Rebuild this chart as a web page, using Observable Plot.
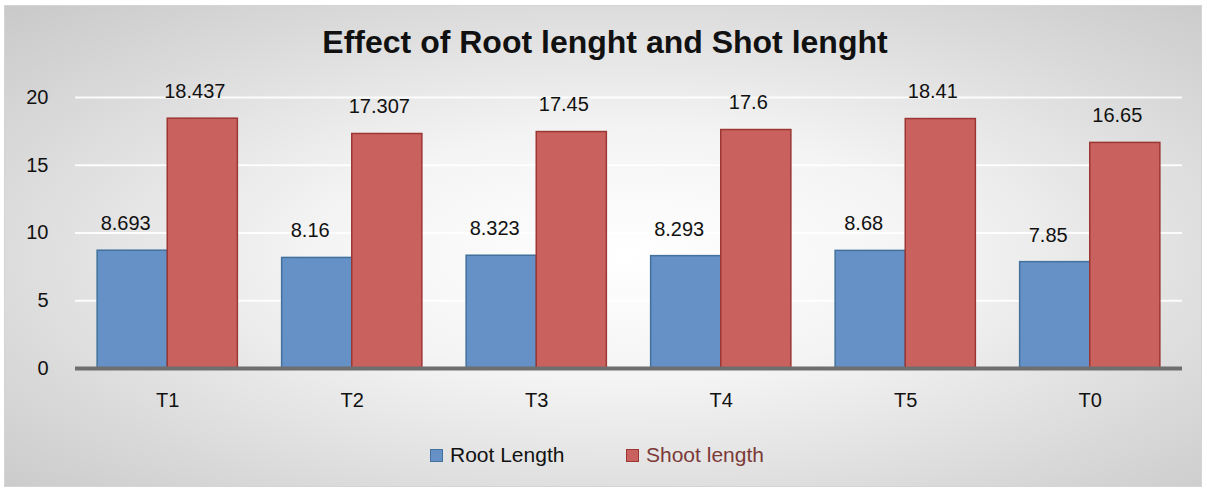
<!DOCTYPE html>
<html>
<head>
<meta charset="utf-8">
<script src="https://cdn.jsdelivr.net/npm/d3@7"></script>
<script src="https://cdn.jsdelivr.net/npm/@observablehq/plot@0.6"></script>
<style>
  html, body { margin: 0; padding: 0; background: #fff; }
  #wrap { position: relative; width: 1207px; height: 492px; overflow: hidden; font-family: "Liberation Sans", Arial, sans-serif; }
  #box { position: absolute; left: 4px; top: 5px; width: 1198px; height: 482px; box-sizing: border-box;
         border: 1px solid #d4d4d4;
         background: radial-gradient(ellipse farthest-corner at 52% 52%, #ffffff 0%, #f4f4f4 35%, #d9d9d9 75%, #c9c9c9 100%); }
  #title { position: absolute; left: 0; width: 1210px; top: 24px; text-align: center; font-weight: bold; font-size: 32px; color: #111; }
  #chart { position: absolute; left: 0; top: 70px; }
  .leg { position: absolute; top: 443px; font-size: 21px; display: flex; align-items: center; }
  .sw { width: 13px; height: 13px; margin-right: 7px; box-sizing: border-box; }
</style>
</head>
<body>
<div id="wrap">
  <div id="box"></div>
  <div id="title">Effect of Root lenght and Shot lenght</div>
  <div id="chart"></div>
  <div class="leg" style="left:430px;color:#111"><div class="sw" style="background:#6591c7;border:1.5px solid #41719c"></div>Root Length</div>
  <div class="leg" style="left:626px;color:#7b3a38"><div class="sw" style="background:#c9625f;border:1.5px solid #9b3633"></div>Shoot length</div>
</div>
<script>
const categories = ["T1", "T2", "T3", "T4", "T5", "T0"];
const rootLength = [8.693, 8.16, 8.323, 8.293, 8.68, 7.85];
const shootLength = [18.437, 17.307, 17.45, 17.6, 18.41, 16.65];
const yTicks = [0, 5, 10, 15, 20];

const width = 1207, height = 350;
const marginLeft = 75, marginRight = 25, marginTop = 27, marginBottom = 52;
const pIn = 0.24, pOut = 0.12;
const step = (width - marginLeft - marginRight) / (categories.length - pIn + 2 * pOut);
const half = step * (1 - pIn) / 2;

const rootData = categories.map((c, i) => ({cat: c, v: rootLength[i]}));
const shootData = categories.map((c, i) => ({cat: c, v: shootLength[i]}));

const plot = Plot.plot({
  width, height, marginLeft, marginRight, marginTop, marginBottom,
  style: {background: "transparent", fontSize: "20px", fontFamily: "'Liberation Sans', Arial, sans-serif", color: "#111"},
  x: {domain: categories, paddingInner: pIn, paddingOuter: pOut, round: false, label: null, tickSize: 0, tickPadding: 24},
  y: {domain: [0, 20], ticks: yTicks, label: null, tickSize: 0, tickPadding: 27},
  marks: [
    Plot.ruleY(yTicks.filter(d => d > 0), {stroke: "#ffffff", strokeWidth: 2, strokeOpacity: 0.9}),
    Plot.barY(rootData, {x: "cat", y: "v", insetRight: half, fill: "#6591c7", stroke: "#41719c", strokeWidth: 1.5}),
    Plot.barY(shootData, {x: "cat", y: "v", insetLeft: half, fill: "#c9625f", stroke: "#9b3633", strokeWidth: 1.5}),
    Plot.text(rootData, {x: "cat", y: "v", text: d => String(d.v), dx: -half / 2 - 7, dy: -27, fill: "#111", fontSize: 20}),
    Plot.text(shootData, {x: "cat", y: "v", text: d => String(d.v), dx: half / 2 - 8, dy: -27, fill: "#111", fontSize: 20}),
    Plot.ruleY([0], {stroke: "#6e6e6e", strokeWidth: 4})
  ]
});
document.getElementById("chart").appendChild(plot);
</script>
</body>
</html>
